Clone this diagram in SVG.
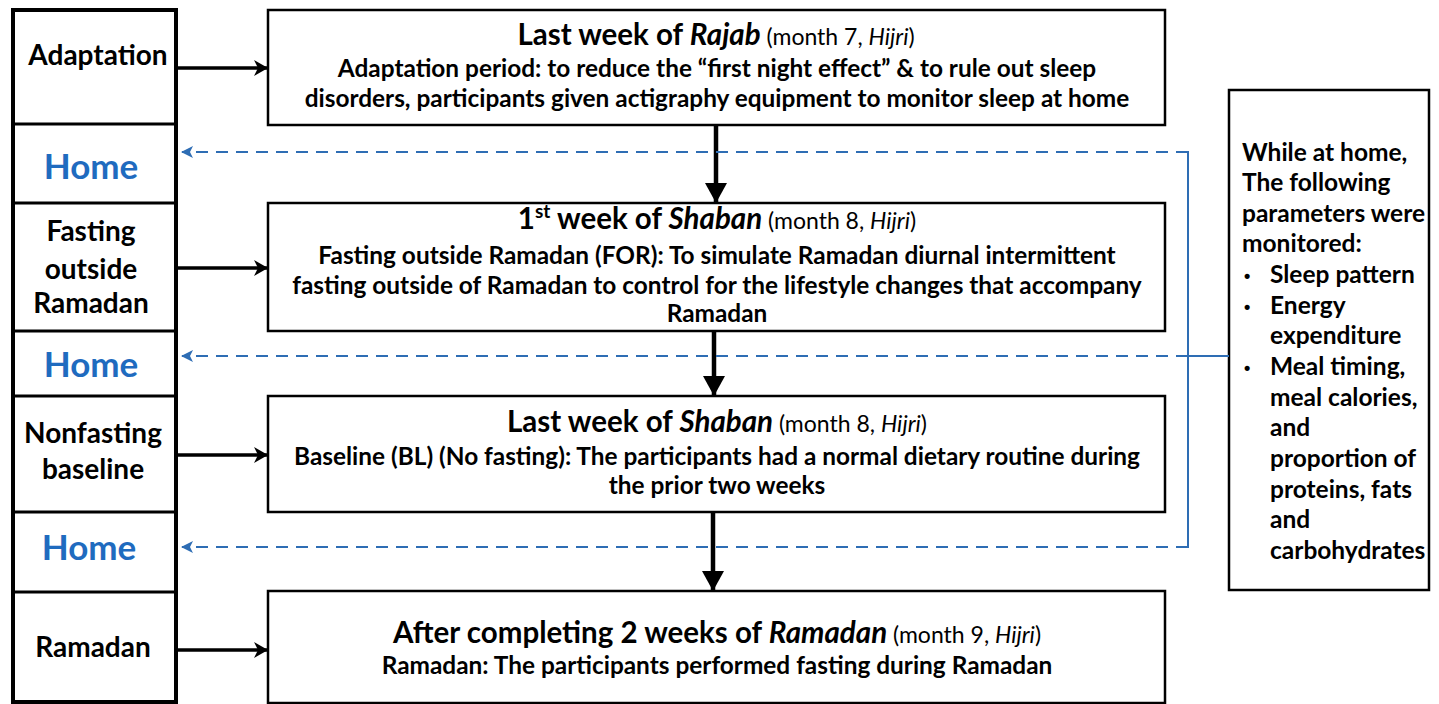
<svg xmlns="http://www.w3.org/2000/svg" width="1439" height="704" viewBox="0 0 1439 704">
<style>
.bg{fill:#fff}
.col{fill:#fff;stroke:#000;stroke-width:4}
.div{stroke:#000;stroke-width:3}
.box{fill:#fff;stroke:#000;stroke-width:2.5}
.lbl{font-family:Lato,"Liberation Sans",sans-serif;font-weight:bold;font-size:28px;fill:#000;text-anchor:middle}
.home{font-family:Lato,"Liberation Sans",sans-serif;font-weight:bold;font-size:35px;fill:#1f6bbf;text-anchor:middle}
.ttl{font-family:Lato,"Liberation Sans",sans-serif;font-weight:bold;font-size:29.5px;fill:#000;text-anchor:middle}
.sm{font-weight:normal;font-size:23px}
.it{font-style:italic}
.txt{font-family:Lato,"Liberation Sans",sans-serif;font-weight:bold;font-size:24.4px;fill:#000;text-anchor:middle}
.side{font-family:Lato,"Liberation Sans",sans-serif;font-weight:bold;font-size:24.5px;fill:#000}
.bul{font-family:"Liberation Sans",sans-serif;font-weight:bold;font-size:18px;fill:#000}
.arr{stroke:#000;stroke-width:3.5;fill:none}
.varr{stroke:#000;stroke-width:4.5;fill:none}
.dash{stroke:#2e6db4;stroke-width:2.2;stroke-dasharray:12 8;fill:none}
.blue{stroke:#2e6db4;stroke-width:2;fill:none}
</style>
<defs>
<marker id="ah" markerWidth="14" markerHeight="16" refX="13" refY="8" orient="auto" markerUnits="userSpaceOnUse">
<path d="M0,0 L14,8 L0,16 L4,8 z" fill="#000"/>
</marker>
<marker id="vh" markerWidth="22" markerHeight="20" refX="11" refY="19" orient="0" markerUnits="userSpaceOnUse">
<path d="M0,0 L22,0 L11,20 z" fill="#000"/>
</marker>
<marker id="bh" markerWidth="12" markerHeight="12" refX="1" refY="6" orient="0" markerUnits="userSpaceOnUse">
<path d="M0,6 L12,0 L9,6 L12,12 z" fill="#2e6db4"/>
</marker>
</defs>
<rect class="bg" x="0" y="0" width="1439" height="704"/>

<g id="left-column">
<rect class="col" x="13" y="10" width="163" height="692"/>
<line class="div" x1="13" y1="124" x2="176" y2="124"/>
<line class="div" x1="13" y1="203" x2="176" y2="203"/>
<line class="div" x1="13" y1="331" x2="176" y2="331"/>
<line class="div" x1="13" y1="396" x2="176" y2="396"/>
<line class="div" x1="13" y1="512" x2="176" y2="512"/>
<line class="div" x1="13" y1="592" x2="176" y2="592"/>
</g>
<g id="lbl-adaptation"><text class="lbl" x="98" y="65">Adaptation</text></g>
<g id="lbl-home1"><text class="home" x="91" y="179">Home</text></g>
<g id="lbl-for"><text class="lbl" x="91" y="241">Fasting</text><text class="lbl" x="91" y="279">outside</text><text class="lbl" x="91" y="313">Ramadan</text></g>
<g id="lbl-home2"><text class="home" x="91" y="377">Home</text></g>
<g id="lbl-bl"><text class="lbl" x="93" y="443">Nonfasting</text><text class="lbl" x="93" y="479">baseline</text></g>
<g id="lbl-home3"><text class="home" x="89" y="560">Home</text></g>
<g id="lbl-ramadan"><text class="lbl" x="93" y="657">Ramadan</text></g>

<g id="box-rajab">
<rect class="box" x="268" y="10" width="897" height="115"/>
<text class="ttl" x="716" y="45">Last week of <tspan class="it">Rajab</tspan><tspan class="sm"> (month  7, <tspan class="it">Hijri</tspan>)</tspan></text>
<text class="txt" x="717" y="77">Adaptation period: to reduce the “first night effect” &amp; to rule out sleep</text>
<text class="txt" x="717" y="107">disorders, participants given actigraphy equipment to monitor sleep at home</text>
</g>
<g id="box-shaban1">
<rect class="box" x="268" y="203" width="897" height="128"/>
<text class="ttl" x="717" y="229">1<tspan font-size="19" dy="-11">st</tspan><tspan dy="11"> week of </tspan><tspan class="it">Shaban</tspan><tspan class="sm"> (month 8, <tspan class="it">Hijri</tspan>)</tspan></text>
<text class="txt" x="717" y="264">Fasting outside Ramadan (FOR): To simulate Ramadan diurnal intermittent</text>
<text class="txt" x="717" y="294">fasting outside of Ramadan to control for the lifestyle changes that accompany</text>
<text class="txt" x="717" y="322">Ramadan</text>
</g>
<g id="box-shaban2">
<rect class="box" x="268" y="396" width="897" height="116"/>
<text class="ttl" x="717" y="432">Last week of <tspan class="it">Shaban</tspan><tspan class="sm"> (month 8, <tspan class="it">Hijri</tspan>)</tspan></text>
<text class="txt" x="717" y="465">Baseline (BL) (No fasting):  The participants had a normal dietary routine during</text>
<text class="txt" x="717" y="494">the prior two weeks</text>
</g>
<g id="box-ramadan">
<rect class="box" x="268" y="591" width="897" height="112"/>
<text class="ttl" x="717" y="643">After completing 2 weeks of <tspan class="it">Ramadan</tspan><tspan class="sm"> (month  9, <tspan class="it">Hijri</tspan>)</tspan></text>
<text class="txt" x="717" y="674">Ramadan: The participants performed fasting during Ramadan</text>
</g>
<g id="box-monitor">
<rect class="box" x="1229" y="90" width="200" height="500"/>
<text class="side" x="1242" y="161">While at home,</text>
<text class="side" x="1242" y="191">The following</text>
<text class="side" x="1242" y="222">parameters were</text>
<text class="side" x="1242" y="252">monitored:</text>
<text class="bul" x="1244" y="282">•</text><text class="side" x="1270" y="283">Sleep pattern</text>
<text class="bul" x="1244" y="313">•</text><text class="side" x="1270" y="314">Energy</text>
<text class="side" x="1270" y="344">expenditure</text>
<text class="bul" x="1244" y="374">•</text><text class="side" x="1270" y="375">Meal timing,</text>
<text class="side" x="1270" y="406">meal calories,</text>
<text class="side" x="1270" y="436">and</text>
<text class="side" x="1270" y="467">proportion of</text>
<text class="side" x="1270" y="498">proteins, fats</text>
<text class="side" x="1270" y="528">and</text>
<text class="side" x="1270" y="559">carbohydrates</text>
</g>

<g id="connectors">
<line class="arr" x1="176" y1="68" x2="267" y2="68" marker-end="url(#ah)"/>
<line class="arr" x1="176" y1="268" x2="267" y2="268" marker-end="url(#ah)"/>
<line class="arr" x1="176" y1="455" x2="267" y2="455" marker-end="url(#ah)"/>
<line class="arr" x1="176" y1="650" x2="267" y2="650" marker-end="url(#ah)"/>
<line class="varr" x1="716" y1="125" x2="716" y2="202" marker-end="url(#vh)"/>
<line class="varr" x1="714" y1="331" x2="714" y2="395" marker-end="url(#vh)"/>
<line class="varr" x1="713" y1="512" x2="713" y2="590" marker-end="url(#vh)"/>
<line class="dash" x1="1188" y1="152" x2="182" y2="152" marker-end="url(#bh)"/>
<line class="dash" x1="1188" y1="356" x2="182" y2="356" marker-end="url(#bh)"/>
<line class="dash" x1="1188" y1="547" x2="182" y2="547" marker-end="url(#bh)"/>
<line class="blue" x1="1188" y1="151" x2="1188" y2="548"/>
<line class="blue" x1="1188" y1="356" x2="1229" y2="356"/>
</g>
</svg>
